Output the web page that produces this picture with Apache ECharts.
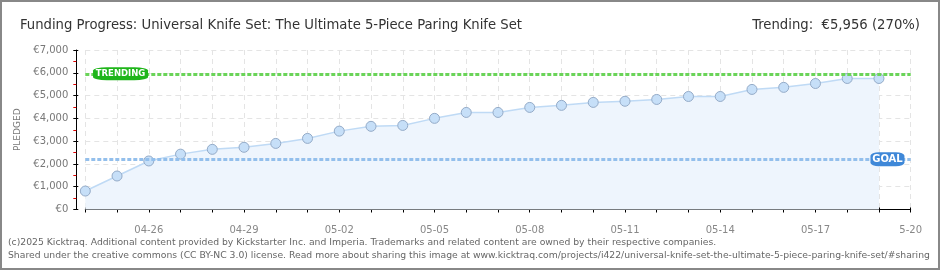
<!DOCTYPE html>
<html><head><meta charset="utf-8">
<script src="https://cdn.jsdelivr.net/npm/echarts@6/dist/echarts.min.js"></script>
<style>html,body{margin:0;padding:0;background:#fff}#c{width:940px;height:270px}</style>
</head><body><div id="c"></div>
<script>
const titleText = 'Funding Progress: Universal Knife Set: The Ultimate 5-Piece Paring Knife Set';
const trendText = 'Trending:  €5,956 (270%)';
const dates = ['04-24','04-25','04-26','04-27','04-28','04-29','04-30','05-01','05-02','05-03','05-04','05-05','05-06','05-07','05-08','05-09','05-10','05-11','05-12','05-13','05-14','05-15','05-16','05-17','05-18','05-19','5-20'];
const pledged = [810,1470,2130,2430,2640,2730,2900,3120,3440,3650,3690,4000,4260,4260,4480,4570,4700,4750,4830,4960,4960,5270,5360,5530,5750,5750];
const goal = 2206;
const trending = 5956;
const yMin = 0, yMax = 7000, yStep = 1000;
const footer1 = '(c)2025 Kicktraq. Additional content provided by Kickstarter Inc. and Imperia. Trademarks and related content are owned by their respective companies.';
const footer2 = 'Shared under the creative commons (CC BY-NC 3.0) license. Read more about sharing this image at www.kicktraq.com/projects/i422/universal-knife-set-the-ultimate-5-piece-paring-knife-set/#sharing';

const chart = echarts.init(document.getElementById('c'), null, {renderer:'canvas'});
const gridGrey = '#e4e4e4';
const labelFont = 'DejaVu Sans';
chart.setOption({
  animation: false,
  backgroundColor: '#fff',
  title: [
    {text: titleText, left: 15, top: 13, textStyle:{fontFamily:'DejaVu Sans Condensed', fontSize:14.7, fontWeight:'normal', color:'#333'}},
    {text: trendText, right: 15, top: 13, textStyle:{fontFamily:'DejaVu Sans Condensed', fontSize:14.7, fontWeight:'normal', color:'#333'}}
  ],
  grid: {left: 85.3, right: 29.3, top: 50, bottom: 60.5},
  xAxis: [
    {type:'category', data: dates, boundaryGap:false, offset:10,
     axisLine:{show:true, lineStyle:{color:'#000', width:1}},
     axisTick:{show:true, interval:0, length:3, lineStyle:{color:'#000'}},
     axisLabel:{interval: i => (i-2)%3===0, color:'#888', fontSize:10, fontFamily:labelFont, margin:6},
     splitLine:{show:true, interval:0, lineStyle:{color:gridGrey, type:[5,4], width:1}}},
    {type:'category', data: dates, boundaryGap:false, offset:10, position:'bottom',
     axisLine:{show:false}, axisTick:{show:true, inside:true, interval:0, length:2, lineStyle:{color:'#000'}},
     axisLabel:{show:false}, splitLine:{show:false}}
  ],
  yAxis: [
    {type:'value', min:yMin, max:yMax, interval:yStep, offset:9, position:'left',
     name:'PLEDGED', nameLocation:'middle', nameGap:42, nameRotate:90,
     nameTextStyle:{color:'#777', fontSize:9, fontFamily:labelFont},
     axisLine:{show:true, lineStyle:{color:'#000'}},
     axisTick:{show:true, length:3, lineStyle:{color:'#000'}},
     minorTick:{show:true, splitNumber:2, length:3, lineStyle:{color:'#e00000'}},
     axisLabel:{color:'#777', fontSize:10, fontFamily:labelFont, margin:8, formatter: v => '€' + v.toLocaleString('en-US')},
     splitLine:{show:true, lineStyle:{color:gridGrey, type:[5,4], width:1}}},
    {type:'value', min:yMin, max:yMax, interval:yStep, offset:9, position:'left',
     axisLine:{show:false}, axisTick:{show:true, inside:true, length:2, lineStyle:{color:'#000'}},
     axisLabel:{show:false}, splitLine:{show:false}}
  ],
  series: [{
    type:'line', data: pledged, xAxisIndex:0, yAxisIndex:0,
    symbol:'circle', symbolSize:10, showSymbol:true,
    lineStyle:{color:'#bfdaf5', width:1.5},
    itemStyle:{color:'#c6dff8', borderColor:'#94abc8', borderWidth:1},
    areaStyle:{color:'#eef5fd', opacity:1},
    z:2,
    markLine:{silent:true, symbol:['none','none'], label:{show:false},
      data:[
        {yAxis: trending, lineStyle:{color:'#6ad458', width:3, type:[4,2]}},
        {yAxis: goal, lineStyle:{color:'#93bfec', width:3, type:[4,2]}}
      ]},
    markPoint:{silent:true, data:[
      {coord:['04-25', trending], symbol:'roundRect', symbolSize:[55,13], symbolOffset:[3.5,0],
       itemStyle:{color:'#1fb51a'}, label:{show:true, formatter:'TRENDING', color:'#fff', fontSize:8.5, fontFamily:labelFont, fontWeight:'bold'}},
      {coord:['05-19', goal], symbol:'roundRect', symbolSize:[34,14], symbolOffset:[8.5,0],
       itemStyle:{color:'#3f88d8'}, label:{show:true, formatter:'GOAL', color:'#fff', fontSize:10, fontFamily:labelFont, fontWeight:'bold'}}
    ]}
  }],
  graphic: [
    {type:'rect', shape:{x:1, y:1, width:938, height:268}, style:{fill:null, stroke:'#888', lineWidth:2}, silent:true, z:100},
    {type:'text', left:8, top:238, style:{text:footer1, fill:'#666', font:'9.25px "DejaVu Sans"'}},
    {type:'text', left:8, top:251, style:{text:footer2, fill:'#666', font:'9.25px "DejaVu Sans"'}}
  ]
});
</script></body></html>
